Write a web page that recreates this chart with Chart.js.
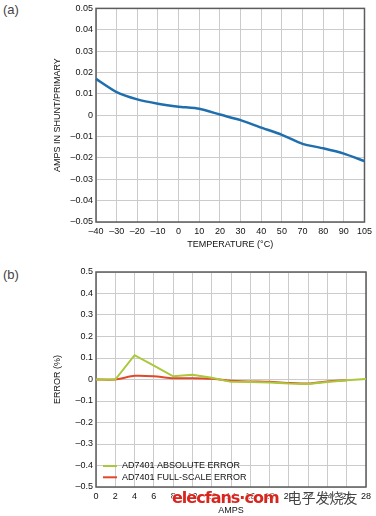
<!DOCTYPE html>
<html>
<head>
<meta charset="utf-8">
<script src="https://cdn.jsdelivr.net/npm/chart.js@4.4.1/dist/chart.umd.min.js"></script>
<style>
  body { margin: 0; background: #fff; font-family: "Liberation Sans", Arial, sans-serif; }
  .wrap { position: relative; width: 376px; height: 516px; overflow: hidden; }
  .panel-label { position: absolute; left: 3px; font-size: 13px; color: #444; }
  .box { position: absolute; left: 0; width: 376px; }
  .watermark { position: absolute; left: 172px; top: 487px; white-space: nowrap; pointer-events: none; }
  .watermark .en { color: #d8261e; font: bold 16px "DejaVu Sans", sans-serif; letter-spacing: -1px;
    text-shadow: 0 0 2px #fff, 0 0 2px #fff, 0 0 2px #fff; }
  .watermark .cn { color: #444; font: 14px "Noto Sans CJK SC", sans-serif; margin-left: 9px;
    text-shadow: 0 0 2px #fff, 0 0 2px #fff; }
</style>
</head>
<body>
<div class="wrap">
  <div class="panel-label" style="top: 2px;">(a)</div>
  <div class="panel-label" style="top: 267px;">(b)</div>

  <div class="box" style="top: 0; height: 250px;"><canvas id="chartA"></canvas></div>
  <div class="box" style="top: 256px; height: 260px;"><canvas id="chartB"></canvas></div>

  <div class="watermark"><span class="en">elecfans·com</span><span class="cn">电子发烧友</span></div>
</div>

<script>
// (a) current in shunt vs temperature
const tempLabels = ['-40', '-30', '-20', '-10', '0', '10', '20', '30', '40', '50', '70', '80', '90', '105'];
const shuntAmps = [0.017, 0.0108, 0.0074, 0.0054, 0.004, 0.003, 0.0003, -0.0023, -0.0058, -0.0092, -0.0134, -0.0155, -0.018, -0.0215];

// (b) error vs amps
const ampLabels = ['0', '2', '4', '6', '8', '10', '12', '14', '16', '18', '20', '22', '24', '26', '28'];
const absError = [0, 0, 0.113, 0.064, 0.015, 0.022, 0.008, -0.011, -0.012, -0.014, -0.019, -0.021, -0.012, -0.003, 0.002];
const fullScaleError = [0, 0, 0.017, 0.015, 0.006, 0.006, 0.003, -0.006, -0.009, -0.011, -0.016, -0.019, -0.009, -0.003, null];

const seriesNames = ['AD7401 ABSOLUTE ERROR', 'AD7401 FULL-SCALE ERROR'];

const DASH = '\u2013';
const FONT = { family: '"Liberation Sans", Arial, sans-serif', size: 9 };
const TEXT = '#111';
const GRID = '#cbcbcb';

// dark frame round the plot area
const frame = {
  id: 'frame',
  beforeDatasetsDraw(chart) {
    const { ctx, chartArea: a } = chart;
    ctx.save();
    ctx.strokeStyle = '#5c5c5c';
    ctx.lineWidth = 1.5;
    ctx.strokeRect(a.left, a.top, a.right - a.left, a.bottom - a.top);
    ctx.restore();
  }
};

// legend drawn inside the lower left corner
const innerLegend = {
  id: 'innerLegend',
  afterDraw(chart) {
    const { ctx, chartArea: a } = chart;
    ctx.save();
    ctx.font = FONT.size + 'px ' + FONT.family;
    ctx.textBaseline = 'middle';
    chart.data.datasets.forEach((ds, i) => {
      const y = a.bottom - 21 + i * 11.3;
      ctx.strokeStyle = ds.borderColor;
      ctx.lineWidth = 2;
      ctx.beginPath();
      ctx.moveTo(a.left + 7, y);
      ctx.lineTo(a.left + 21, y);
      ctx.stroke();
      ctx.fillStyle = TEXT;
      ctx.fillText(ds.label, a.left + 26, y);
    });
    ctx.restore();
  }
};

function dash(s) {
  return String(s).replace('-', DASH);
}

function xAxis(title, h) {
  return {
    grid: { color: GRID, drawTicks: false },
    border: { display: false },
    ticks: {
      color: TEXT, font: FONT, padding: 4, maxRotation: 0, autoSkip: false,
      callback: function (v) { return dash(this.getLabelForValue(v)); }
    },
    title: { display: true, text: title, color: TEXT, font: FONT, padding: { top: 2, bottom: 0 } },
    afterFit: (s) => { s.height = h; }
  };
}

function yAxis(title, min, max, step, digits) {
  return {
    min: min, max: max,
    grid: { color: GRID, drawTicks: false },
    border: { display: false },
    ticks: {
      color: TEXT, font: FONT, padding: 3, stepSize: step,
      callback: (v) => dash(String(+v.toFixed(digits)))
    },
    title: { display: true, text: title, color: TEXT, font: FONT, padding: { top: 0, bottom: 0 } },
    afterFit: (s) => { s.width = 44; }
  };
}

new Chart(document.getElementById('chartA'), {
  type: 'line',
  data: {
    labels: tempLabels,
    datasets: [{
      data: shuntAmps,
      borderColor: '#1f6ead',
      borderWidth: 2.5,
      pointRadius: 0,
      tension: 0.2
    }]
  },
  options: {
    responsive: true,
    maintainAspectRatio: false,
    animation: false,
    layout: { padding: { left: 52, right: 10, top: 5, bottom: 0 } },
    plugins: { legend: { display: false }, tooltip: { enabled: false } },
    scales: {
      x: xAxis('TEMPERATURE (°C)', 28),
      y: yAxis('AMPS IN SHUNT/PRIMARY', -0.05, 0.05, 0.01, 2)
    }
  },
  plugins: [frame]
});

new Chart(document.getElementById('chartB'), {
  type: 'line',
  data: {
    labels: ampLabels,
    datasets: [
      { label: seriesNames[0], data: absError, borderColor: '#a9c83b', borderWidth: 2, pointRadius: 0, tension: 0 },
      { label: seriesNames[1], data: fullScaleError, borderColor: '#e2472a', borderWidth: 2, pointRadius: 0, tension: 0.2 }
    ]
  },
  options: {
    responsive: true,
    maintainAspectRatio: false,
    animation: false,
    layout: { padding: { left: 52, right: 10, top: 16, bottom: 0 } },
    plugins: { legend: { display: false }, tooltip: { enabled: false } },
    scales: {
      x: xAxis('AMPS', 29),
      y: yAxis('ERROR (%)', -0.5, 0.5, 0.1, 1)
    }
  },
  plugins: [frame, innerLegend]
});
</script>
</body>
</html>
